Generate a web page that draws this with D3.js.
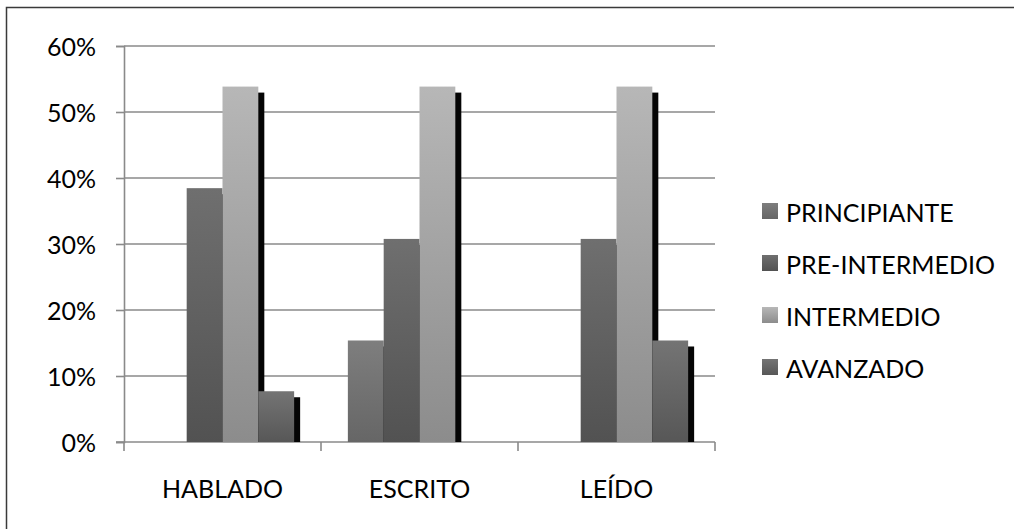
<!DOCTYPE html>
<html>
<head>
<meta charset="utf-8">
<script src="https://cdn.jsdelivr.net/npm/d3@7"></script>
<style>
  html, body { margin: 0; padding: 0; background: #fff; }
  svg { display: block; }
  text { font-family: Lato, "Open Sans", sans-serif; fill: #000; }
</style>
</head>
<body>
<svg id="chart" width="1014" height="529"></svg>
<script>
// Skill level by language ability (share of respondents)
const categories = ["HABLADO", "ESCRITO", "LEÍDO"];
const seriesNames = ["PRINCIPIANTE", "PRE-INTERMEDIO", "INTERMEDIO", "AVANZADO"];
const principiante = [0, 15.38, 0];
const preIntermedio = [38.46, 30.77, 30.77];
const intermedio = [53.85, 53.85, 53.85];
const avanzado = [7.69, 0, 15.38];
const yTickValues = [0, 10, 20, 30, 40, 50, 60];

const seriesValues = [principiante, preIntermedio, intermedio, avanzado];
// top / bottom shades of each series' vertical gradient
const seriesShades = [
  ["#7e7e7e", "#666666"],
  ["#6f6f6f", "#525252"],
  ["#b7b7b7", "#8c8c8c"],
  ["#747474", "#575757"]
];

const svg = d3.select("#chart");
const W = 1014, H = 529;
const plot = { left: 124, right: 715, top: 46, bottom: 442 };

// frame
svg.append("rect")
  .attr("x", 6.5).attr("y", 7.5)
  .attr("width", W + 20).attr("height", H + 20)
  .attr("fill", "#fff").attr("stroke", "#3a3a3a").attr("stroke-width", 1.5);

const defs = svg.append("defs");
seriesNames.forEach((name, i) => {
  const g = defs.append("linearGradient")
    .attr("id", "grad" + i)
    .attr("x1", 0).attr("y1", 0).attr("x2", 0).attr("y2", 1);
  g.append("stop").attr("offset", "0%").attr("stop-color", seriesShades[i][0]);
  g.append("stop").attr("offset", "100%").attr("stop-color", seriesShades[i][1]);
});

const x0 = d3.scaleBand().domain(categories)
  .range([plot.left, plot.right]).paddingInner(0).paddingOuter(0);
const x1 = d3.scaleBand().domain(seriesNames)
  .range([0, x0.bandwidth()]).paddingInner(0).paddingOuter(0.75);
const y = d3.scaleLinear().domain([0, 60]).range([plot.bottom, plot.top]);

const gridColor = "#8a8a8a";

// horizontal gridlines
svg.append("g").selectAll("line")
  .data(yTickValues.filter(v => v > 0))
  .join("line")
  .attr("x1", plot.left).attr("x2", plot.right)
  .attr("y1", d => y(d)).attr("y2", d => y(d))
  .attr("stroke", gridColor).attr("stroke-width", 1.6);

// y axis
const yAxis = svg.append("g")
  .attr("transform", `translate(${plot.left},0)`)
  .call(d3.axisLeft(y).tickValues(yTickValues).tickSize(8).tickPadding(20)
    .tickFormat(d => d + "%"));
yAxis.select(".domain").attr("stroke", gridColor).attr("stroke-width", 1.6);
yAxis.selectAll(".tick line").attr("stroke", gridColor).attr("stroke-width", 1.6);
yAxis.selectAll(".tick text")
  .attr("font-size", 25).attr("dy", "0.36em")
  .style("font-family", "Lato, sans-serif").attr("fill", "#000");

// x axis baseline, boundary ticks and labels
const xAxis = svg.append("g")
  .attr("transform", `translate(0,${plot.bottom})`)
  .call(d3.axisBottom(x0).tickSize(0).tickPadding(0));
xAxis.select(".domain").remove();
xAxis.append("line")
  .attr("x1", plot.left - 8).attr("x2", plot.right)
  .attr("y1", 0).attr("y2", 0)
  .attr("stroke", gridColor).attr("stroke-width", 1.6);
xAxis.selectAll(".boundary")
  .data(categories.map(c => x0(c)).concat([x0(categories[categories.length - 1]) + x0.bandwidth()]))
  .join("line").attr("class", "boundary")
  .attr("x1", d => d).attr("x2", d => d)
  .attr("y1", 0).attr("y2", 9)
  .attr("stroke", gridColor).attr("stroke-width", 1.6);
xAxis.selectAll(".tick text")
  .attr("font-size", 25).attr("dy", 0).attr("y", 56)
  .style("font-family", "Lato, sans-serif").attr("fill", "#000");

// bars with offset drop shadows, series by series
const shadowOffset = 6;
seriesNames.forEach((name, i) => {
  const g = svg.append("g").attr("class", "series");
  const data = categories.map((c, j) => ({ cat: c, v: seriesValues[i][j] }))
    .filter(d => d.v > 0);
  g.selectAll(".shadow").data(data).join("rect").attr("class", "shadow")
    .attr("x", d => x0(d.cat) + x1(name) + shadowOffset)
    .attr("y", d => y(d.v) + shadowOffset)
    .attr("width", x1.bandwidth())
    .attr("height", d => Math.max(0, y(0) - y(d.v) - shadowOffset))
    .attr("fill", "#050505");
  g.selectAll(".bar").data(data).join("rect").attr("class", "bar")
    .attr("x", d => x0(d.cat) + x1(name))
    .attr("y", d => y(d.v))
    .attr("width", x1.bandwidth())
    .attr("height", d => y(0) - y(d.v))
    .attr("fill", `url(#grad${i})`);
});

// legend
const legend = svg.append("g").attr("transform", "translate(762,222)");
const rowGap = 52;
const rows = legend.selectAll("g").data(seriesNames).join("g")
  .attr("transform", (d, i) => `translate(0,${i * rowGap})`);
rows.append("rect")
  .attr("x", 0).attr("y", -19).attr("width", 16).attr("height", 16)
  .attr("fill", (d, i) => `url(#grad${i})`);
rows.append("text")
  .attr("x", 24).attr("y", 0)
  .attr("font-size", 25)
  .text(d => d);
</script>
</body>
</html>
